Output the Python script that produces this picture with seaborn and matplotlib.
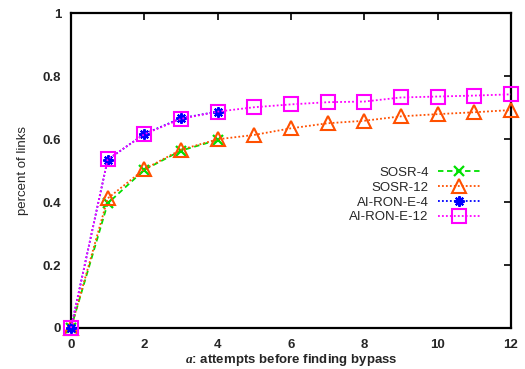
import matplotlib
matplotlib.use("Agg")
import matplotlib.pyplot as plt
import seaborn as sns
import numpy as np

# ---- data ----
attempts_4 = [0, 1, 2, 3, 4]
attempts_12 = [0, 1, 2, 3, 4, 5, 6, 7, 8, 9, 10, 11, 12]
sosr_4 = [0.0, 0.396, 0.503, 0.564, 0.598]
sosr_12 = [0.0, 0.412, 0.505, 0.567, 0.600, 0.614, 0.635, 0.651, 0.659, 0.673, 0.680, 0.686, 0.693]
airone_4 = [0.0, 0.535, 0.617, 0.667, 0.688]
airone_12 = [0.0, 0.536, 0.616, 0.665, 0.688, 0.702, 0.711, 0.718, 0.720, 0.733, 0.736, 0.739, 0.743]
x_ticks = [0, 2, 4, 6, 8, 10, 12]
y_ticks = [0, 0.2, 0.4, 0.6, 0.8, 1]
y_tick_labels = ["0", "0.2", "0.4", "0.6", "0.8", "1"]

sns.set_style("white")
plt.rcParams["font.family"] = ["Liberation Sans", "DejaVu Sans"]
plt.rcParams["mathtext.fontset"] = "custom"
plt.rcParams["mathtext.it"] = "Liberation Serif:italic:bold"
plt.rcParams["mathtext.rm"] = "Liberation Sans:bold"

fig = plt.figure(figsize=(5.25, 3.69), dpi=100)
ax = fig.add_axes([71/525, 1 - 328/369, 440/525, 314.5/369])

series = [
    ("SOSR-4", attempts_4, sosr_4, "#00e000", (0, (3, 2)), "x", 7, "#00e000", 1.6),
    ("SOSR-12", attempts_12, sosr_12, "#ff5000", (0, (1, 1.2)), "^", 10.5, "none", 1.5),
    ("AI-RON-E-4", attempts_4, airone_4, "#0000ff", (0, (1, 1.2)), (8, 2, 0), 7.5, "#0000ff", 1.5),
    ("AI-RON-E-12", attempts_12, airone_12, "#ff00ff", (0, (1, 1.2)), "s", 10, "none", 1.5),
]
for label, xs, ys, col, ls, mk, ms, mfc, mew in series:
    sns.lineplot(x=xs, y=ys, ax=ax, color=col, linestyle=ls, linewidth=1.3,
                 marker=mk, markersize=ms, markerfacecolor=mfc,
                 markeredgecolor=col, markeredgewidth=mew, label=label,
                 clip_on=False, zorder=3)

ax.set_xlim(0, 12)
ax.set_ylim(0, 1)
ax.set_xticks(x_ticks)
ax.set_xticklabels([str(t) for t in x_ticks])
ax.set_yticks(y_ticks)
ax.set_yticklabels(y_tick_labels)
ax.tick_params(direction="in", length=5, width=1.2, top=True, right=True,
               labelsize=9.5, color="black")
ax.tick_params(axis="x", pad=8)
ax.tick_params(axis="y", pad=7)
for lab in ax.get_xticklabels() + ax.get_yticklabels():
    lab.set_fontweight("bold")
for s in ax.spines.values():
    s.set_color("black")
    s.set_linewidth(1.6)

ax.set_xlabel(r"$a$: attempts before finding bypass",
              fontsize=9.5, fontweight="bold", labelpad=1)
ax.set_ylabel("percent of links", fontsize=9.5, labelpad=10)

leg = ax.legend(loc="upper left", bbox_to_anchor=(0.62, 0.53), markerfirst=False,
                frameon=False, fontsize=9.5, handlelength=3.2, handletextpad=0.7,
                labelspacing=0.2, borderaxespad=0)

fig.savefig("out.png", dpi=100)
